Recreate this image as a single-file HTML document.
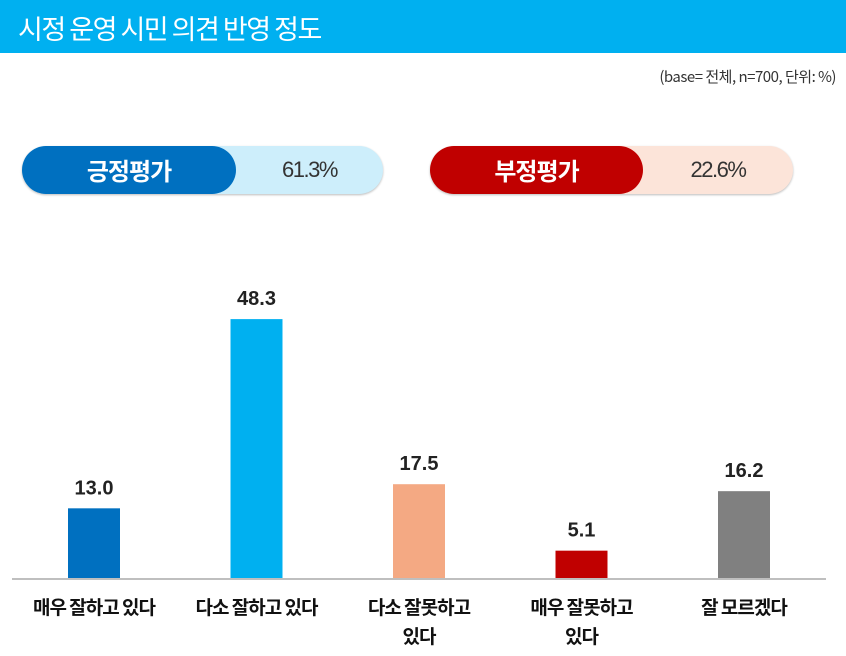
<!DOCTYPE html>
<html><head><meta charset="utf-8"><style>
body{margin:0;width:846px;height:656px;background:#fff;overflow:hidden;font-family:"Liberation Sans","Noto Sans CJK KR",sans-serif;position:relative}
.hdr{position:absolute;left:0;top:0;width:846px;height:53px;background:#00b0f0}
.hdr span{position:absolute;left:18px;top:8px;color:#fff;font-size:27px;letter-spacing:-1.5px;font-family:"Noto Sans CJK KR",sans-serif}
.base{position:absolute;right:10px;top:66px;font-size:15px;color:#333;letter-spacing:-0.5px;font-family:"Noto Sans CJK KR",sans-serif}
.pill{position:absolute;top:146px;height:48px;border-radius:24px;box-shadow:0 1px 2px #bbb}
.pill .l{position:absolute;left:0;top:0;height:48px;border-radius:24px;color:#fff;font-size:24px;font-weight:bold;text-align:center;line-height:48px;font-family:"Noto Sans CJK KR",sans-serif;letter-spacing:-1px}
.pill .v{position:absolute;top:0;height:48px;line-height:48px;font-size:22px;color:#333;text-align:center;letter-spacing:-1.5px}
</style></head><body>
<div class="hdr"><span>시정 운영 시민 의견 반영 정도</span></div>
<div class="base">(base= 전체, n=700, 단위: %)</div>
<div class="pill" style="left:22px;width:361px;background:#cdeefb">
<div class="l" style="width:214px;background:#0070c0">긍정평가</div>
<div class="v" style="left:214px;width:147px">61.3%</div></div>
<div class="pill" style="left:430px;width:363px;background:#fce4d9">
<div class="l" style="width:213px;background:#c00000">부정평가</div>
<div class="v" style="left:213px;width:150px">22.6%</div></div>
<svg id="chart" width="846" height="656" style="position:absolute;left:0;top:0"></svg>
<script>
const categories=[["매우 잘하고 있다"],["다소 잘하고 있다"],["다소 잘못하고","있다"],["매우 잘못하고","있다"],["잘 모르겠다"]];
const values=[13.0,48.3,17.5,5.1,16.2];
const labels=["13.0","48.3","17.5","5.1","16.2"];
const colors=["#0070c0","#00b0f0","#f4a983","#c00000","#808080"];
const svg=document.getElementById('chart');
const NS="http://www.w3.org/2000/svg";
const base=578,scale=5.36,x0=94,step=162.5,bw=52;
const y=v=>base-v*scale, x=i=>x0+i*step;
function mk(t,a){const e=document.createElementNS(NS,t);for(const k in a)e.setAttribute(k,a[k]);svg.appendChild(e);return e;}
values.forEach((v,i)=>{
 const r=mk('rect',{x:x(i)-bw/2,y:y(v),width:bw,height:v*scale,fill:colors[i]});
 
 
 const t=mk('text',{x:x(i),y:y(v)-14,'text-anchor':'middle','font-size':20,'font-weight':'bold',fill:'#222','font-family':'Liberation Sans,sans-serif'});
 t.textContent=labels[i];
 
 
 categories[i].forEach((ln,j)=>{
  const c=mk('text',{x:x(i),y:614+j*29,'text-anchor':'middle','font-size':19,'font-weight':'bold',fill:'#111','letter-spacing':'-1','font-family':'Noto Sans CJK KR,sans-serif'});
  c.textContent=ln;
  
  
 });
});
const ax=mk('line',{x1:12,x2:826,y1:base+1,y2:base+1,stroke:'#bfbfbf','stroke-width':2});


</script>
</body></html>
